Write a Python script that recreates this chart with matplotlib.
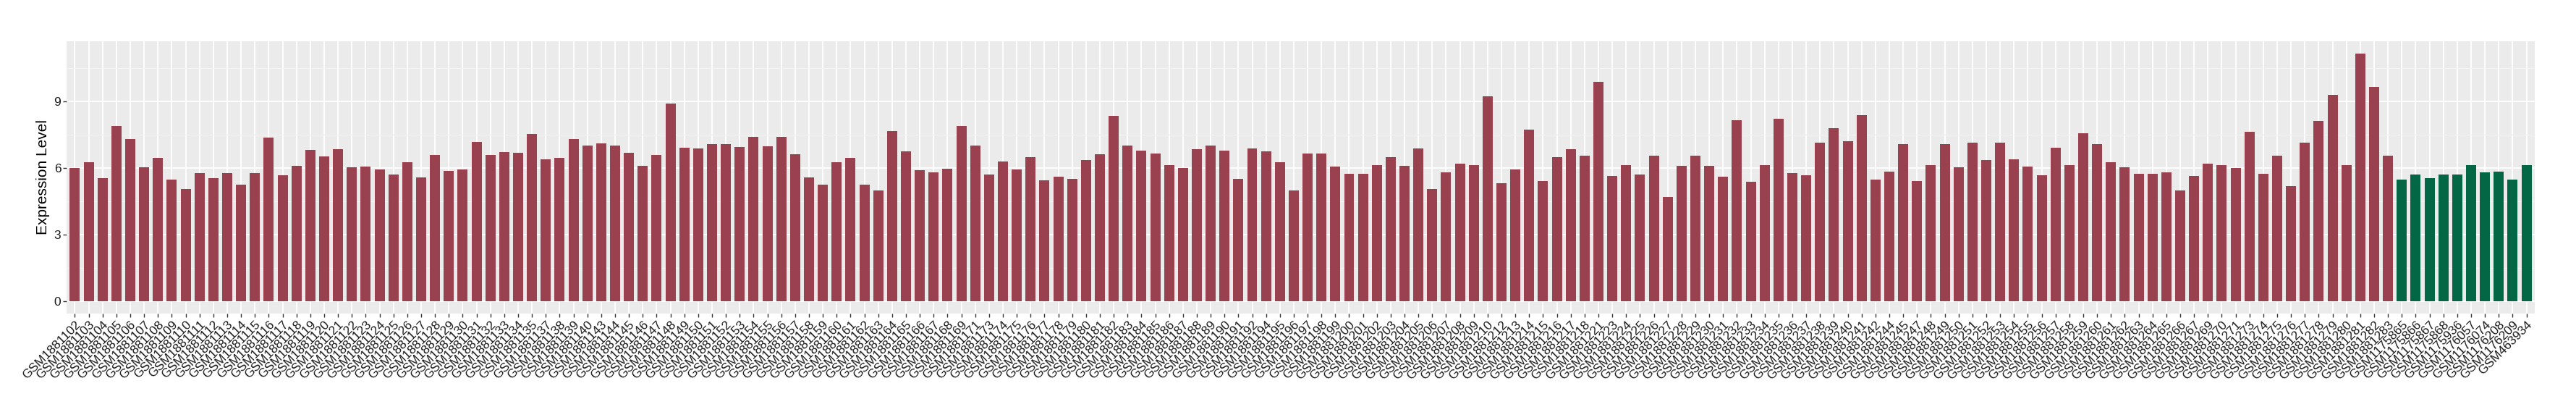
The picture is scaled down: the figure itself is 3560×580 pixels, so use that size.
import matplotlib
matplotlib.use("Agg")
import matplotlib.pyplot as plt
import numpy as np
from matplotlib.ticker import MultipleLocator

plt.rcParams['font.family'] = ['Liberation Sans', 'DejaVu Sans']

# tumour samples (red) and normal samples (green)
case_ids = [
    1881102, 1881103, 1881104, 1881105, 1881106, 1881107, 1881108, 1881109, 1881110, 1881111,
    1881112, 1881113, 1881114, 1881115, 1881116, 1881117, 1881118, 1881119, 1881120, 1881121,
    1881122, 1881123, 1881124, 1881125, 1881126, 1881127, 1881128, 1881129, 1881130, 1881131,
    1881132, 1881133, 1881134, 1881135, 1881137, 1881138, 1881139, 1881140, 1881143, 1881144,
    1881145, 1881146, 1881147, 1881148, 1881149, 1881150, 1881151, 1881152, 1881153, 1881154,
    1881155, 1881156, 1881157, 1881158, 1881159, 1881160, 1881161, 1881162, 1881163, 1881164,
    1881165, 1881166, 1881167, 1881168, 1881169, 1881171, 1881173, 1881174, 1881175, 1881176,
    1881177, 1881178, 1881179, 1881180, 1881181, 1881182, 1881183, 1881184, 1881185, 1881186,
    1881187, 1881188, 1881189, 1881190, 1881191, 1881192, 1881194, 1881195, 1881196, 1881197,
    1881198, 1881199, 1881200, 1881201, 1881202, 1881203, 1881204, 1881205, 1881206, 1881207,
    1881208, 1881209, 1881210, 1881212, 1881213, 1881214, 1881215, 1881216, 1881217, 1881218,
    1881221, 1881223, 1881224, 1881225, 1881226, 1881227, 1881228, 1881229, 1881230, 1881231,
    1881232, 1881233, 1881234, 1881235, 1881236, 1881237, 1881238, 1881239, 1881240, 1881241,
    1881242, 1881244, 1881245, 1881247, 1881248, 1881249, 1881250, 1881251, 1881252, 1881253,
    1881254, 1881255, 1881256, 1881257, 1881258, 1881259, 1881260, 1881261, 1881262, 1881263,
    1881264, 1881265, 1881266, 1881267, 1881269, 1881270, 1881271, 1881273, 1881274, 1881275,
    1881276, 1881277, 1881278, 1881279, 1881280, 1881281, 1881282, 1881283,
]
case_values = [
    5.98, 6.25, 5.53, 7.87, 7.29, 6.02, 6.44, 5.47, 5.04, 5.76,
    5.53, 5.76, 5.24, 5.76, 7.36, 5.66, 6.09, 6.80, 6.51, 6.83,
    6.02, 6.05, 5.92, 5.69, 6.25, 5.56, 6.57, 5.86, 5.92, 7.16,
    6.57, 6.70, 6.67, 7.52, 6.37, 6.44, 7.29, 6.99, 7.09, 7.02,
    6.67, 6.09, 6.57, 8.89, 6.90, 6.86, 7.06, 7.06, 6.93, 7.39,
    6.97, 7.39, 6.60, 5.56, 5.24, 6.25, 6.44, 5.24, 4.98, 7.65,
    6.74, 5.89, 5.79, 5.95, 7.90, 6.99, 5.69, 6.28, 5.92, 6.48,
    5.44, 5.60, 5.49, 6.34, 6.60, 8.33, 6.99, 6.77, 6.64, 6.14,
    5.98, 6.83, 7.02, 6.77, 5.49, 6.86, 6.74, 6.25, 4.98, 6.64,
    6.64, 6.05, 5.72, 5.72, 6.12, 6.48, 6.09, 6.86, 5.04, 5.79,
    6.18, 6.12, 9.21, 5.30, 5.92, 7.71, 5.40, 6.48, 6.83, 6.54,
    9.86, 5.63, 6.14, 5.69, 6.54, 4.68, 6.09, 6.54, 6.09, 5.60,
    8.13, 5.37, 6.12, 8.20, 5.76, 5.66, 7.13, 7.78, 7.20, 8.36,
    5.47, 5.82, 7.06, 5.40, 6.14, 7.06, 6.02, 7.13, 6.34, 7.13,
    6.37, 6.05, 5.66, 6.90, 6.14, 7.55, 7.06, 6.25, 6.02, 5.72,
    5.72, 5.79, 4.98, 5.63, 6.18, 6.12, 5.98, 7.62, 5.72, 6.54,
    5.17, 7.13, 8.10, 9.27, 6.12, 11.14, 9.63, 6.54,
]
ctrl_ids = [1175865, 1175866, 1175867, 1175868, 1175936, 1176057, 1176074, 1176208, 1176209, 463934]
ctrl_values = [5.47, 5.69, 5.53, 5.69, 5.69, 6.12, 5.79, 5.82, 5.47, 6.14]

case_color = '#9A4150'
ctrl_color = '#036645'

labels = ['GSM%d' % i for i in case_ids + ctrl_ids]
values = case_values + ctrl_values
colors = [case_color] * len(case_values) + [ctrl_color] * len(ctrl_values)
x = np.arange(len(values))

fig = plt.figure(figsize=(35.6, 5.8), dpi=100)
ax = fig.add_axes([92 / 3560, 1 - 433 / 580, (3503 - 92) / 3560, (433 - 57) / 580])

ax.set_facecolor('#EBEBEB')
ax.bar(x, values, width=0.73, color=colors, zorder=2)

top = max(values)
ax.set_xlim(-0.6, len(values) - 0.4)
ax.set_ylim(-0.05 * top, top * 1.05)

ax.yaxis.set_major_locator(MultipleLocator(3))
ax.yaxis.set_minor_locator(MultipleLocator(1.5))
ax.set_xticks(x)
ax.set_xticklabels(labels, rotation=45, ha='right', va='top', rotation_mode='anchor', fontsize=12.5)

ax.grid(which='major', color='white', linewidth=1.3, zorder=0)
ax.grid(which='minor', axis='y', color='#F5F5F5', linewidth=0.7, zorder=0)
ax.set_axisbelow(True)
for s in ax.spines.values():
    s.set_visible(False)

ax.tick_params(axis='both', which='major', length=3.5, width=1, color='#333333',
               labelcolor='#1A1A1A', pad=2)
ax.tick_params(axis='y', labelsize=12.5)
ax.tick_params(which='minor', length=0)

ax.set_ylabel('Expression Level', fontsize=15, labelpad=4)

fig.savefig('out.png', dpi=100, facecolor='white')
